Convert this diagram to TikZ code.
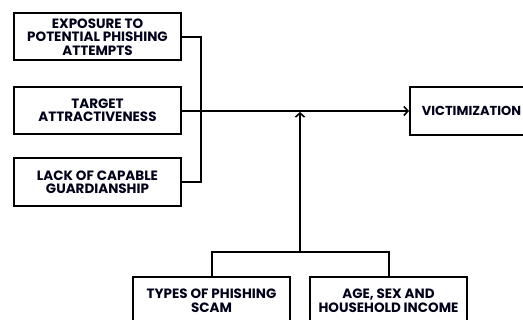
\documentclass[tikz,border=0pt]{standalone}
\usepackage{fontspec}
\setmainfont{Poppins}[BoldFont={* Bold}]
\usetikzlibrary{arrows.meta}
\begin{document}
\begin{tikzpicture}[x=1pt,y=-1pt,
  fbox/.style={draw=black,line width=2pt,rectangle,inner sep=0pt,align=center,
    font=\bfseries\fontsize{13.5}{13.3}\selectfont,text=black!90!blue},
  conn/.style={line width=2pt,black},
  arr/.style={conn,-{Straight Barb[length=4pt,width=9pt,line width=1.6pt]}}]
\useasboundingbox (0,0) rectangle (523,320);
\clip (0,0) rectangle (523,320);
\node[fbox,minimum width=167pt,minimum height=47pt] (b1) at (97.5,37) {EXPOSURE TO\\POTENTIAL PHISHING\\ATTEMPTS};
\node[fbox,minimum width=167pt,minimum height=47pt] (b2) at (97.5,110.5) {TARGET\\ATTRACTIVENESS};
\node[fbox,minimum width=167pt,minimum height=48pt] (b3) at (97.5,182) {LACK OF CAPABLE\\GUARDIANSHIP};
\node[fbox,minimum width=126pt,minimum height=48pt,font=\bfseries\fontsize{13}{13.3}\selectfont] (v) at (473,111) {\hspace*{-3pt}VICTIMIZATION};
\node[fbox,minimum width=157pt,minimum height=56pt] (b4) at (211.5,305) {TYPES OF PHISHING\\SCAM\\[-4.5pt]};
\node[fbox,minimum width=157pt,minimum height=56pt] (b5) at (388.5,305) {AGE, SEX AND\\HOUSEHOLD INCOME\\[-4.5pt]};
\coordinate (j1) at (201,37);
\coordinate (j3) at (201,182);
\coordinate (jb) at (300,252);
\coordinate (jb4) at (211.5,252);
\coordinate (jb5) at (388.5,252);
\coordinate (ja) at (300,111);
\draw[conn] (b1.east |- j1) -- (j1) -- (j3) -- (b3.east |- j3);
\draw[arr] (b2.east |- ja) -- (v.west |- ja);
\draw[conn] (b4.north) -- (jb4) -- (jb5) -- (b5.north);
\draw[arr] (jb) -- ([yshift=-1pt]ja);
\end{tikzpicture}
\end{document}
